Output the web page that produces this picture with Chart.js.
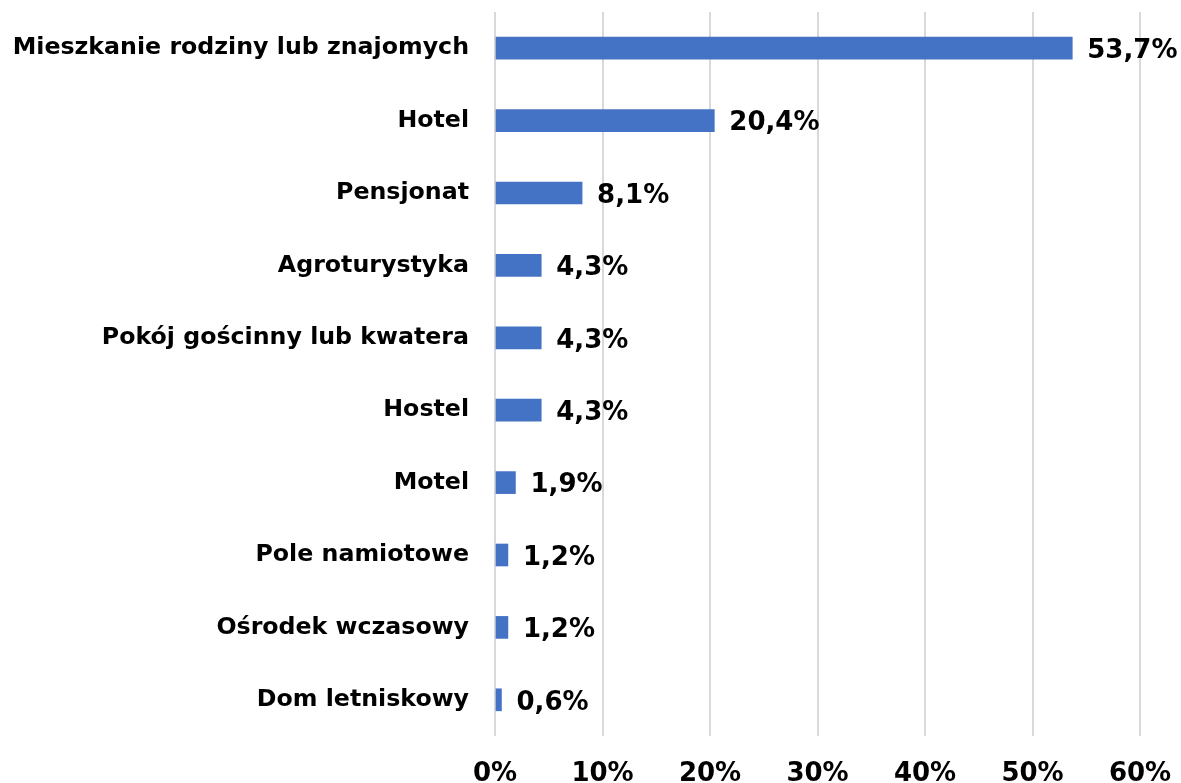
<!DOCTYPE html>
<html>
<head>
<meta charset="utf-8">
<script src="https://cdn.jsdelivr.net/npm/chart.js@4"></script>
<style>
  html, body { margin: 0; padding: 0; background: #fff; }
  #wrap { width: 1181px; height: 783px; }
</style>
</head>
<body>
<div id="wrap"><canvas id="chart"></canvas></div>
<script>
const categories = [
  "Mieszkanie rodziny lub znajomych",
  "Hotel",
  "Pensjonat",
  "Agroturystyka",
  "Pokój gościnny lub kwatera",
  "Hostel",
  "Motel",
  "Pole namiotowe",
  "Ośrodek wczasowy",
  "Dom letniskowy"
];
const shares = [53.7, 20.4, 8.1, 4.3, 4.3, 4.3, 1.9, 1.2, 1.2, 0.6];
const xTicks = [0, 10, 20, 30, 40, 50, 60];

const FONT = "'DejaVu Sans', Verdana, sans-serif";

// value labels at the end of each bar
const valueLabels = {
  id: "valueLabels",
  afterDatasetsDraw(chart) {
    const ctx = chart.ctx;
    const meta = chart.getDatasetMeta(0);
    ctx.save();
    ctx.font = "bold 26px " + FONT;
    ctx.fillStyle = "#000";
    ctx.textAlign = "left";
    ctx.textBaseline = "middle";
    meta.data.forEach((bar, i) => {
      let txt = shares[i].toFixed(1).replace(".", ",") + "%";
      ctx.fillText(txt, bar.x + 15, bar.y + 3);
    });
    ctx.restore();
  }
};

const ctx = document.getElementById("chart").getContext("2d");

new Chart(ctx, {
  type: "bar",
  data: {
    labels: categories,
    datasets: [{
      data: shares,
      backgroundColor: "#4472C4",
      barThickness: 22
    }]
  },
  options: {
    indexAxis: "y",
    responsive: true,
    maintainAspectRatio: false,
    animation: false,
    layout: { padding: { top: 12, right: 41, left: 0, bottom: 0 } },
    plugins: {
      legend: { display: false },
      tooltip: { enabled: false }
    },
    scales: {
      x: {
        min: 0,
        max: 60,
        afterBuildTicks: (s) => { s.ticks = xTicks.map(v => ({ value: v })); },
        afterFit: (s) => {
          s.height = 47;
          s.paddingLeft = 0;
          s.paddingRight = 0;
        },
        grid: { color: "#d9d9d9", lineWidth: 2, drawTicks: false },
        border: { display: false },
        ticks: {
          padding: 23,
          maxRotation: 0,
          color: "#000",
          font: { family: FONT, size: 26, weight: "bold" },
          callback: (v) => v + "%"
        }
      },
      y: {
        grid: { display: false, drawTicks: false },
        border: { display: false },
        afterFit: (s) => {
          s.width = 495;
          s.paddingTop = 0;
          s.paddingBottom = 0;
        },
        ticks: {
          padding: 26,
          color: "#000",
          font: { family: FONT, size: 23.7, weight: "bold" }
        }
      }
    }
  },
  plugins: [valueLabels]
});
</script>
</body>
</html>
